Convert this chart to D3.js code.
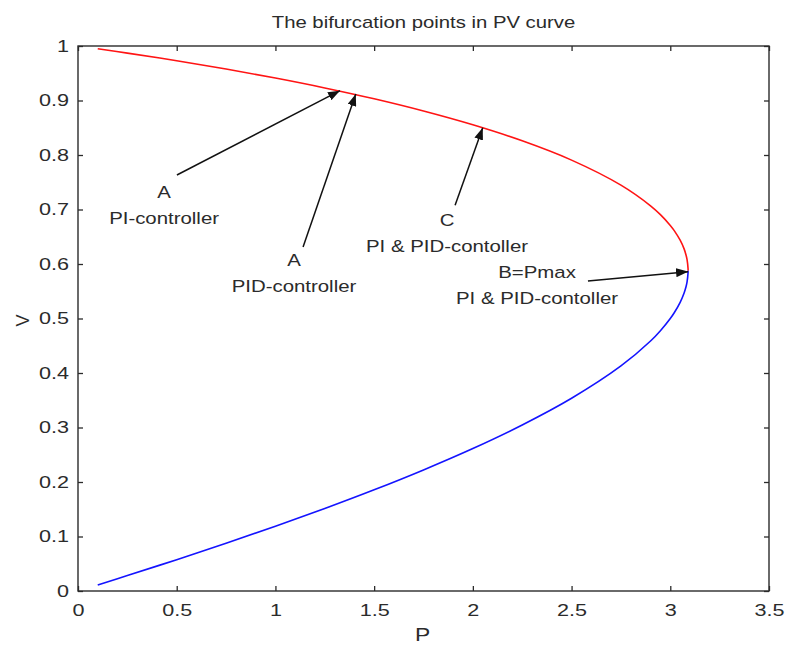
<!DOCTYPE html>
<html>
<head>
<meta charset="utf-8">
<script src="https://cdn.jsdelivr.net/npm/d3@7"></script>
<style>
  html, body { margin: 0; padding: 0; background: #fff; }
  svg { display: block; font-family: Arial, "Liberation Sans", sans-serif; }
</style>
</head>
<body>
<svg id="chart" width="788" height="646"></svg>
<script>
// Upper (stable) branch of the PV curve: load power P vs voltage V
const upperP = [0.1, 0.25, 0.5, 0.75, 1.0, 1.25, 1.5, 1.75, 2.0, 2.25, 2.5, 2.75, 2.9, 2.95, 3.0, 3.02, 3.05, 3.07, 3.08, 3.085, 3.09, 3.0902];
const upperV = [0.9949, 0.9870, 0.9730, 0.9578, 0.9412, 0.9231, 0.9031, 0.8807, 0.8554, 0.8260, 0.7906, 0.7447, 0.7068, 0.6906, 0.6708, 0.6613, 0.6437, 0.6277, 0.6162, 0.6081, 0.5915, 0.5878];

// Lower (unstable) branch
const lowerP = [0.1, 0.25, 0.5, 0.75, 1.0, 1.25, 1.5, 1.75, 2.0, 2.25, 2.5, 2.75, 2.9, 2.95, 3.0, 3.02, 3.05, 3.07, 3.08, 3.085, 3.09, 3.0902];
const lowerV = [0.0112, 0.0283, 0.0575, 0.0876, 0.1188, 0.1514, 0.1857, 0.2222, 0.2614, 0.3046, 0.3536, 0.4129, 0.4587, 0.4776, 0.5000, 0.5106, 0.5297, 0.5469, 0.5588, 0.5672, 0.5841, 0.5878];

// Axis ticks
const xTicks = [0, 0.5, 1, 1.5, 2, 2.5, 3, 3.5];
const yTicks = [0, 0.1, 0.2, 0.3, 0.4, 0.5, 0.6, 0.7, 0.8, 0.9, 1];

// Annotated bifurcation points: label lines, label anchor (P,V), arrow tail and tip (P,V)
const noteLines = [["A", "PI-controller"], ["A", "PID-controller"], ["C", "PI & PID-contoller"], ["B=Pmax", "PI & PID-contoller"]];
const noteAnchor = [[0.436, 0.721], [1.094, 0.5963], [1.869, 0.670], [2.325, 0.5743]];
const arrowTail = [[0.501, 0.7633], [1.140, 0.631], [1.910, 0.708], [2.583, 0.569]];
const arrowTip = [[1.327, 0.918], [1.407, 0.912], [2.050, 0.850], [3.090, 0.586]];

const svg = d3.select("#chart");
const margin = { left: 78, right: 19, top: 46, bottom: 55 };
const W = 788, H = 646;
const textScale = 1.27;   // wide glyph rendering

const x = d3.scaleLinear().domain([0, 3.5]).range([margin.left, W - margin.right]);
const y = d3.scaleLinear().domain([0, 1]).range([H - margin.bottom, margin.top]);

const axisColor = "#2b2b2b";
const textColor = "#2b2b2b";

// Widen a text element about its own anchor point
function stretch(sel, s) {
  sel.each(function () {
    const t = d3.select(this);
    const tx = +t.attr("x") || 0, ty = +t.attr("y") || 0;
    t.attr("x", null).attr("y", null)
      .attr("transform", `translate(${tx},${ty}) scale(${s},1)`);
  });
}

// Ticks on all four sides, pointing inward
const xAxisG = svg.append("g")
  .attr("transform", `translate(0,${y(0)})`)
  .call(d3.axisBottom(x).tickValues(xTicks).tickSizeInner(-5).tickSizeOuter(0).tickPadding(13).tickFormat(d3.format("")))
  .call(g => g.select(".domain").remove());
svg.append("g")
  .attr("transform", `translate(0,${y(1)})`)
  .call(d3.axisTop(x).tickValues(xTicks).tickSizeInner(-5).tickSizeOuter(0).tickFormat(""))
  .call(g => g.select(".domain").remove());
const yAxisG = svg.append("g")
  .attr("transform", `translate(${x(0)},0)`)
  .call(d3.axisLeft(y).tickValues(yTicks).tickSizeInner(-5).tickSizeOuter(0).tickPadding(9).tickFormat(d3.format("")))
  .call(g => g.select(".domain").remove());
svg.append("g")
  .attr("transform", `translate(${x(3.5)},0)`)
  .call(d3.axisRight(y).tickValues(yTicks).tickSizeInner(-5).tickSizeOuter(0).tickFormat(""))
  .call(g => g.select(".domain").remove());

svg.selectAll(".tick line").attr("stroke", axisColor).attr("stroke-width", 1.3);
svg.selectAll(".tick text").attr("fill", textColor).attr("font-size", 17)
  .attr("font-family", "Arial, 'Liberation Sans', sans-serif");
stretch(xAxisG.selectAll(".tick text"), textScale);
stretch(yAxisG.selectAll(".tick text"), textScale);

// Plot box
svg.append("rect")
  .attr("x", x(0)).attr("y", y(1))
  .attr("width", x(3.5) - x(0)).attr("height", y(0) - y(1))
  .attr("fill", "none").attr("stroke", axisColor).attr("stroke-width", 1.4);

// Curves
const line = d3.line().x(d => x(d[0])).y(d => y(d[1])).curve(d3.curveCatmullRom.alpha(0.5));
svg.append("path")
  .datum(upperP.map((p, i) => [p, upperV[i]]))
  .attr("d", line).attr("fill", "none").attr("stroke", "#ff1414").attr("stroke-width", 1.6);
svg.append("path")
  .datum(lowerP.map((p, i) => [p, lowerV[i]]))
  .attr("d", line).attr("fill", "none").attr("stroke", "#1414ff").attr("stroke-width", 1.6);

// Arrows
const defs = svg.append("defs");
defs.append("marker")
  .attr("id", "arrowhead")
  .attr("viewBox", "0 0 12 9")
  .attr("refX", 12).attr("refY", 4.5)
  .attr("markerWidth", 12).attr("markerHeight", 9)
  .attr("markerUnits", "userSpaceOnUse")
  .attr("orient", "auto")
  .append("path").attr("d", "M0,0 L12,4.5 L0,9 Z").attr("fill", "#111");

svg.selectAll(".arrow")
  .data(arrowTail.map((t, i) => ({ t, h: arrowTip[i] })))
  .join("line")
  .attr("class", "arrow")
  .attr("x1", d => x(d.t[0])).attr("y1", d => y(d.t[1]))
  .attr("x2", d => x(d.h[0])).attr("y2", d => y(d.h[1]))
  .attr("stroke", "#111").attr("stroke-width", 1.5)
  .attr("marker-end", "url(#arrowhead)");

// Annotation labels
noteLines.forEach((lines, i) => {
  const g = svg.append("g")
    .attr("transform", `translate(${x(noteAnchor[i][0])},${y(noteAnchor[i][1])}) scale(1.2,1)`);
  const t = g.append("text")
    .attr("text-anchor", "middle")
    .attr("font-size", 17).attr("fill", textColor);
  lines.forEach((s, j) => {
    t.append("tspan").attr("x", 0).attr("dy", j === 0 ? 0 : 26).text(s);
  });
});

// Title and axis labels
const title = svg.append("text")
  .attr("x", (x(0) + x(3.5)) / 2).attr("y", 28)
  .attr("text-anchor", "middle").attr("font-size", 16).attr("fill", textColor)
  .text("The bifurcation points in PV curve");
stretch(title, textScale);
const xLabel = svg.append("text")
  .attr("x", (x(0) + x(3.5)) / 2 - 1).attr("y", 641)
  .attr("text-anchor", "middle").attr("font-size", 18).attr("fill", textColor)
  .text("P");
stretch(xLabel, textScale);
svg.append("text")
  .attr("transform", `translate(29,${(y(0) + y(1)) / 2 + 2}) rotate(-90)`)
  .attr("text-anchor", "middle").attr("font-size", 18).attr("fill", textColor)
  .text("V");
</script>
</body>
</html>
